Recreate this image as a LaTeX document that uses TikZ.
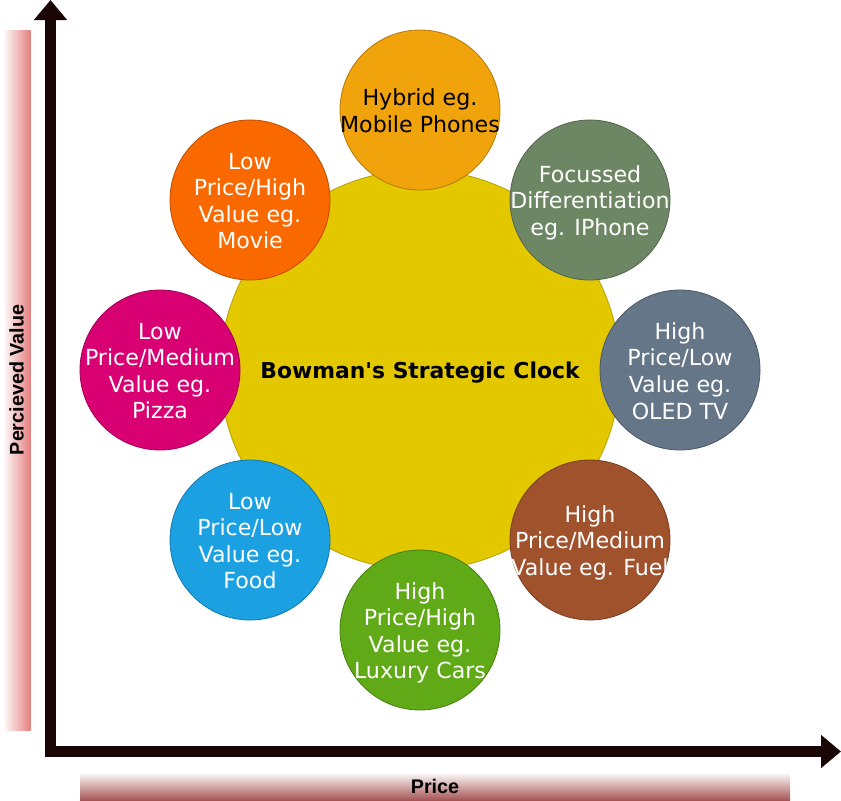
\documentclass[tikz,border=0pt]{standalone}
\usepackage{fontspec}
\setmainfont{DejaVu Sans}
\newfontfamily\barfont{Liberation Sans}
\usetikzlibrary{arrows.meta}

\def\unit{0.75pt}

\definecolor{axisdark}{HTML}{1A0505}
\definecolor{barpink}{HTML}{E58080}
\definecolor{barbrown}{HTML}{A65656}
\definecolor{clockyellow}{HTML}{E3C800}
\definecolor{hybridc}{HTML}{F0A30A}
\definecolor{focusc}{HTML}{6D8764}
\definecolor{oledc}{HTML}{647687}
\definecolor{fuelc}{HTML}{A0522D}
\definecolor{luxuryc}{HTML}{60A917}
\definecolor{foodc}{HTML}{1BA1E2}
\definecolor{pizzac}{HTML}{D80073}
\definecolor{moviec}{HTML}{FA6800}

\tikzset{
	axisline/.style={line width=11*\unit, draw=axisdark, {Triangle[length=15pt,width=24pt]}-{Triangle[length=15pt,width=24pt]}},
	clockitem/.style={circle, minimum size=160*\unit, inner sep=0pt, line width=0.6pt, fill=#1, draw=#1!75!black},
	clocktext/.style={align=center, inner sep=0pt, font=\fontsize{16.6}{19.9}\selectfont},
	sidebar/.style={minimum height=28*\unit, inner sep=0pt, font=\barfont\bfseries\fontsize{14.8}{17}\selectfont},
}

\begin{document}
\begin{tikzpicture}

\begin{scope}[x=\unit,y=-\unit]
\useasboundingbox (0,0) rectangle (841,800);

\node[sidebar, rotate=90, minimum width=700*\unit, left color=white, right color=barpink] (valuebar) at (16.5,380) {Percieved Value};
\node[sidebar, minimum width=710*\unit, top color=white, bottom color=barbrown] (pricebar) at (435,786) {Price};

\coordinate (top) at (50.5,0);
\coordinate (origin) at (50.5,751.5);
\coordinate (right) at (841,751.5);
\draw[axisline] (top) -- (origin) -- (right);

\node[circle, minimum size=400*\unit, inner sep=0pt, fill=clockyellow, draw=clockyellow!80!black, line width=0.6pt, text height=15.5pt, text depth=3.2pt, font=\bfseries\fontsize{16.4}{18}\selectfont] (clock) at (420,370) {Bowman\textquotesingle s Strategic Clock};

\foreach \n/\x/\y/\f/\k/\o/\s in {
	hybrid/420/110/hybridc/black/1/{Hybrid eg.\\Mobile Phones},
	focus/590/200/focusc/white/2.5/{Focussed\\Differentiation\\eg. IPhone},
	oled/680/370/oledc/white/1/{High\\Price/Low\\Value eg.\\OLED TV},
	fuel/590/540/fuelc/white/2.5/{High\\Price/Medium\\Value eg. Fuel},
	luxury/420/630/luxuryc/white/3/{High\\Price/High\\Value eg.\\Luxury Cars},
	food/250/540/foodc/white/1/{Low\\Price/Low\\Value eg.\\Food},
	pizza/160/370/pizzac/white/1/{Low\\Price/Medium\\Value eg.\\Pizza},
	movie/250/200/moviec/white/1/{Low\\Price/High\\Value eg.\\Movie}%
}{
	\node[clockitem=\f] (\n) at (\x,\y) {};
	\node[clocktext, text=\k, yshift=-\o*\unit] (\n text) at (\n) {\s};
}
\end{scope}

\end{tikzpicture}
\end{document}
